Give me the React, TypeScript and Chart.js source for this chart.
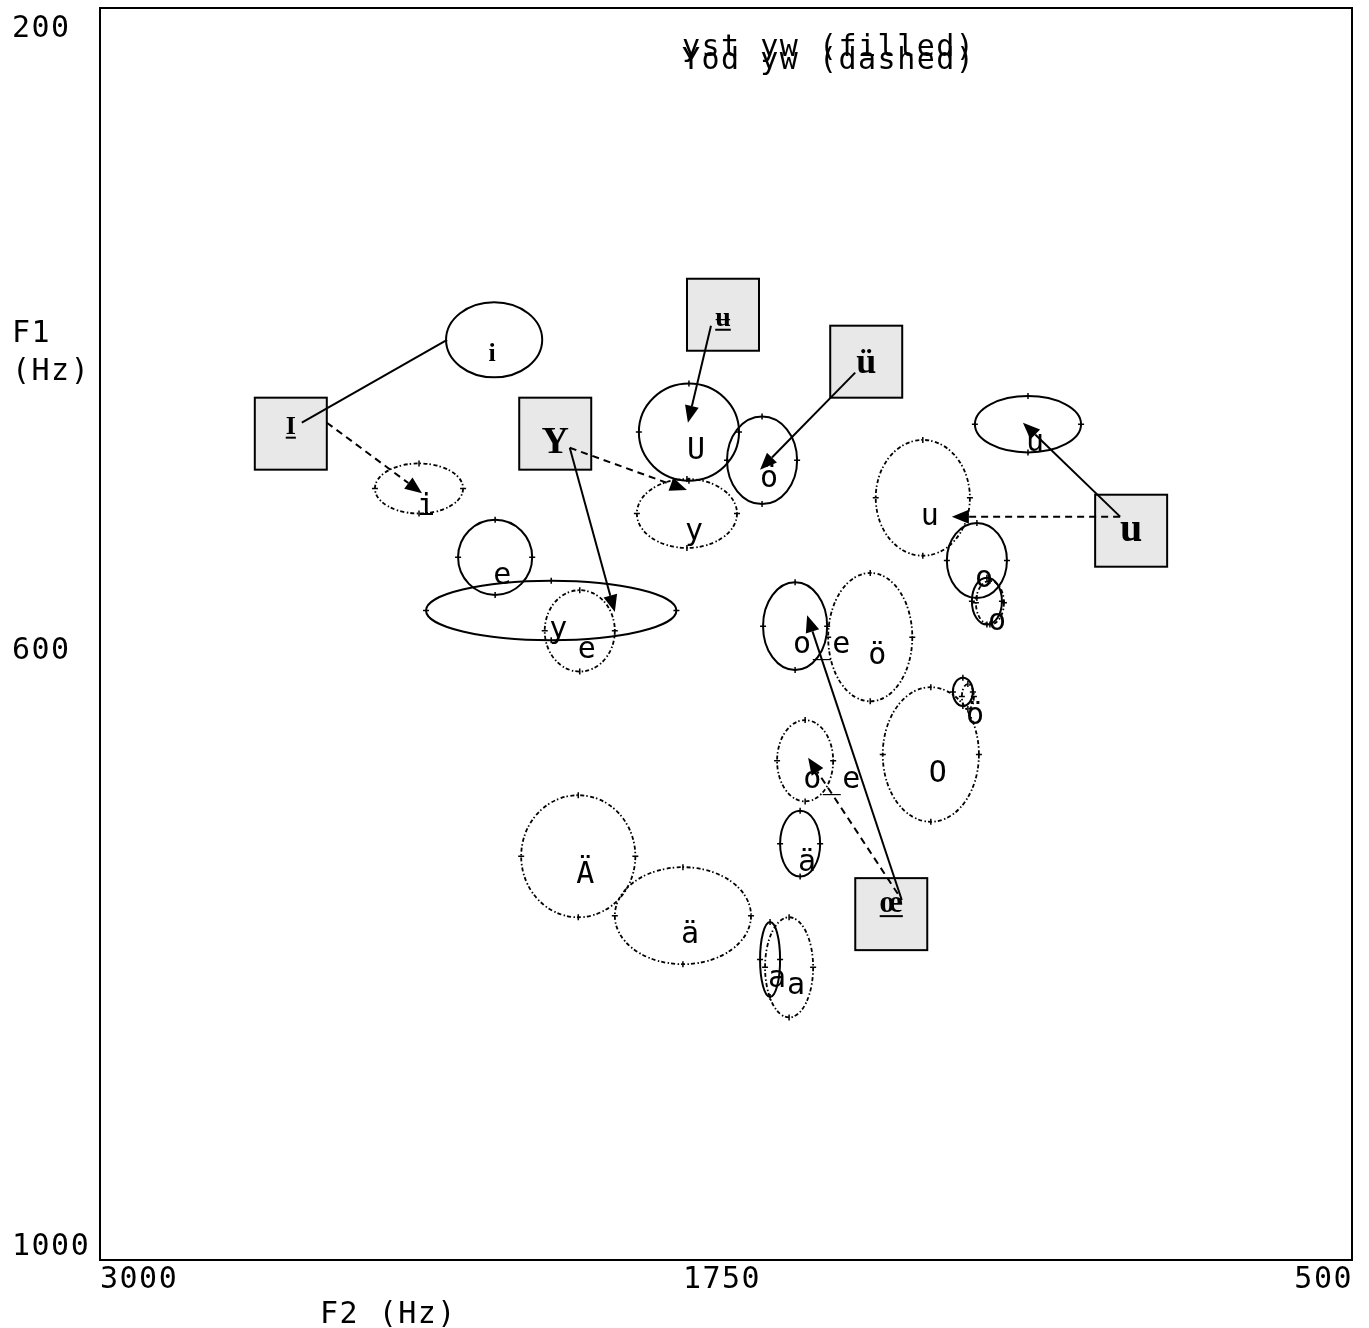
import React, { useEffect, useRef } from "react";
import { Chart, registerables } from "chart.js";

Chart.register(...registerables);

// ---------- axes ----------
const xTicks = [3000, 1750, 500];
const yTicks = [200, 600, 1000];

// ---------- yst yw (filled / solid outline) ellipses ----------
const filledLabels = ["e", "y", "U", "ö", "u", "o", "", "o_e", "ä", "a", ""];
const filledF2 = [2211, 2099, 1824, 1678, 1147, 1249, 1229, 1612, 1602, 1662, 1277];
const filledF1 = [551, 585, 471, 489, 466, 553, 579, 595, 734, 808, 637];
const filledRadF2 = [74, 250, 100, 70, 106, 60, 30, 64, 40, 20, 20];
const filledRadF1 = [24, 19, 31, 28, 18, 24, 15, 28, 21, 24, 9];

// ---------- Yod yw (dashed outline) ellipses ----------
const dashedLabels = ["i", "y", "e", "u", "ö", "O", "o_e", "Ä", "ä", "a", "o", "ö"];
const dashedF2 = [2363, 1828, 2042, 1357, 1462, 1341, 1592, 2045, 1836, 1624, 1223, 1267];
const dashedF1 = [507, 523, 598, 513, 602, 677, 681, 742, 780, 813, 580, 640];
const dashedRadF2 = [88, 100, 70, 94, 84, 96, 56, 114, 136, 48, 28, 12];
const dashedRadF1 = [16, 22, 26, 37, 41, 43, 26, 39, 31, 32, 14, 8];

// ---------- added annotation ellipse ----------
const noteLabels = ["i"];
const noteF2 = [2213];
const noteF1 = [412];
const noteRadF2 = [96];
const noteRadF1 = [24];

// ---------- annotation boxes ----------
const boxLabels = ["I", "ʉ", "ü", "Y", "u", "œ"];
const boxUnderlined = [true, true, false, false, false, true];
const boxF2 = [2619, 1756, 1470, 2091, 941, 1420];
const boxF1 = [472, 396, 426, 472, 534, 779];

// ---------- annotation arrows ----------
const arrowFromF2 = [2597, 2547, 1780, 1492, 2062, 2062, 963, 963, 1399, 1407];
const arrowFromF1 = [465, 465, 403, 433, 481, 481, 525, 525, 770, 766];
const arrowToF2 = [2307, 2357, 1826, 1682, 1972, 1828, 1157, 1299, 1588, 1586];
const arrowToF1 = [412, 510, 465, 495, 586, 508, 465, 525, 588, 679];
const arrowDashed = [false, true, false, false, false, true, false, true, false, true];
const arrowHead = [false, true, true, true, true, true, true, true, true, true];

const titleLines = ["yst yw (filled)", "Yod yw (dashed)"];

const MONO = '30px "DejaVu Sans Mono", monospace';
const SERIF = '"Liberation Serif", "DejaVu Serif", serif';

const boxTextDy = [0, 11, 11, 19, 10, -2];
const boxFontSize = [26, 28, 36, 38, 40, 32];
const yTickDy = [29, 25, -5];

function toPts(f2: number[], f1: number[]) {
  return f2.map((v, i) => ({ x: v, y: f1[i] }));
}

const drawPlugin = {
  id: "formantDraw",
  afterDatasetsDraw(chart: any) {
    const ctx: CanvasRenderingContext2D = chart.ctx;
    const xs = chart.scales.x;
    const ys = chart.scales.y;
    const ca = chart.chartArea;
    ctx.save();

    // frame
    ctx.strokeStyle = "#000";
    ctx.lineWidth = 2;
    ctx.setLineDash([]);
    ctx.strokeRect(ca.left, ca.top, ca.right - ca.left, ca.bottom - ca.top);

    // tick labels
    ctx.fillStyle = "#000";
    ctx.font = MONO;
    (ctx as any).letterSpacing = "1.5px";
    ctx.textBaseline = "alphabetic";
    yTicks.forEach((t, i) => {
      ctx.textAlign = "left";
      ctx.fillText(String(t), 12, ys.getPixelForValue(t) + yTickDy[i]);
    });
    xTicks.forEach((t, i) => {
      const px = xs.getPixelForValue(t);
      if (i === 0) {
        ctx.textAlign = "left";
        ctx.fillText(String(t), px, ca.bottom + 28);
      } else if (i === xTicks.length - 1) {
        ctx.textAlign = "right";
        ctx.fillText(String(t), px + 1, ca.bottom + 28);
      } else {
        ctx.textAlign = "center";
        ctx.fillText(String(t), px - 4, ca.bottom + 28);
      }
    });
    // axis titles
    ctx.textAlign = "left";
    ctx.fillText("F1", 12, 342);
    ctx.fillText("(Hz)", 12, 380);
    ctx.fillText("F2 (Hz)", 320, 1323);
    // legend-like title
    ctx.fillText(titleLines[0], 682, 56);
    ctx.fillText(titleLines[1], 682, 69);

    const drawEllipse = (
      f2: number, f1: number, r2: number, r1: number, label: string,
      dash: number[], lw: number
    ) => {
      const cx = xs.getPixelForValue(f2);
      const cy = ys.getPixelForValue(f1);
      const rx = Math.abs(xs.getPixelForValue(f2 - r2) - cx);
      const ry = Math.abs(ys.getPixelForValue(f1 + r1) - cy);
      ctx.strokeStyle = "#000";
      ctx.lineWidth = lw;
      ctx.setLineDash(dash);
      ctx.beginPath();
      ctx.ellipse(cx, cy, rx, ry, 0, 0, Math.PI * 2);
      ctx.stroke();
      // little ticks at the four extremes
      ctx.setLineDash([]);
      ctx.lineWidth = 1.5;
      ctx.beginPath();
      ctx.moveTo(cx, cy - ry - 3); ctx.lineTo(cx, cy - ry + 3);
      ctx.moveTo(cx, cy + ry - 3); ctx.lineTo(cx, cy + ry + 3);
      ctx.moveTo(cx - rx - 3, cy); ctx.lineTo(cx - rx + 3, cy);
      ctx.moveTo(cx + rx - 3, cy); ctx.lineTo(cx + rx + 3, cy);
      ctx.stroke();
      if (label) {
        ctx.font = MONO;
        (ctx as any).letterSpacing = "1.5px";
        ctx.textAlign = "left";
        ctx.fillStyle = "#000";
        ctx.fillText(label, cx - 2, cy + 27);
      }
    };

    filledF2.forEach((v, i) =>
      drawEllipse(v, filledF1[i], filledRadF2[i], filledRadF1[i], filledLabels[i], [], 2)
    );
    dashedF2.forEach((v, i) =>
      drawEllipse(v, dashedF1[i], dashedRadF2[i], dashedRadF1[i], dashedLabels[i], [4, 2, 1.5, 2.5], 1.8)
    );

    // annotation ellipse (smooth)
    noteF2.forEach((v, i) => {
      const cx = xs.getPixelForValue(v);
      const cy = ys.getPixelForValue(noteF1[i]);
      const rx = Math.abs(xs.getPixelForValue(v - noteRadF2[i]) - cx);
      const ry = Math.abs(ys.getPixelForValue(noteF1[i] + noteRadF1[i]) - cy);
      ctx.setLineDash([]);
      ctx.lineWidth = 2;
      ctx.strokeStyle = "#000";
      ctx.beginPath();
      ctx.ellipse(cx, cy, rx, ry, 0, 0, Math.PI * 2);
      ctx.stroke();
      ctx.font = `bold 26px ${SERIF}`;
      (ctx as any).letterSpacing = "0px";
      ctx.textAlign = "center";
      ctx.fillStyle = "#000";
      ctx.fillText(noteLabels[i], cx - 2, cy + 21);
    });

    // boxes
    boxF2.forEach((v, i) => {
      const cx = xs.getPixelForValue(v);
      const cy = ys.getPixelForValue(boxF1[i]);
      ctx.setLineDash([]);
      ctx.fillStyle = "#e8e8e8";
      ctx.fillRect(cx - 36, cy - 36, 72, 72);
      ctx.strokeStyle = "#000";
      ctx.lineWidth = 2;
      ctx.strokeRect(cx - 36, cy - 36, 72, 72);
      ctx.fillStyle = "#000";
      ctx.font = `bold ${boxFontSize[i]}px ${SERIF}`;
      (ctx as any).letterSpacing = "0px";
      ctx.textAlign = "center";
      const by = cy + boxTextDy[i];
      ctx.fillText(boxLabels[i], cx, by);
      if (boxUnderlined[i]) {
        const w = ctx.measureText(boxLabels[i]).width;
        ctx.lineWidth = 2;
        ctx.beginPath();
        ctx.moveTo(cx - w / 2, by + 4);
        ctx.lineTo(cx + w / 2, by + 4);
        ctx.stroke();
      }
    });

    // arrows
    arrowFromF2.forEach((v, i) => {
      const x1 = xs.getPixelForValue(v);
      const y1 = ys.getPixelForValue(arrowFromF1[i]);
      const x2 = xs.getPixelForValue(arrowToF2[i]);
      const y2 = ys.getPixelForValue(arrowToF1[i]);
      const ang = Math.atan2(y2 - y1, x2 - x1);
      const hl = 17, hw = 7;
      const ex = arrowHead[i] ? x2 - hl * Math.cos(ang) : x2;
      const ey = arrowHead[i] ? y2 - hl * Math.sin(ang) : y2;
      ctx.strokeStyle = "#000";
      ctx.lineWidth = 2;
      ctx.setLineDash(arrowDashed[i] ? [7, 5] : []);
      ctx.beginPath();
      ctx.moveTo(x1, y1);
      ctx.lineTo(ex, ey);
      ctx.stroke();
      if (arrowHead[i]) {
        ctx.setLineDash([]);
        ctx.fillStyle = "#000";
        ctx.beginPath();
        ctx.moveTo(x2, y2);
        ctx.lineTo(ex - hw * Math.sin(ang), ey + hw * Math.cos(ang));
        ctx.lineTo(ex + hw * Math.sin(ang), ey - hw * Math.cos(ang));
        ctx.closePath();
        ctx.fill();
      }
    });

    ctx.restore();
  },
};

export default function App() {
  const ref = useRef<HTMLCanvasElement | null>(null);
  useEffect(() => {
    document.body.style.margin = "0";
    const canvas = ref.current;
    if (!canvas) return;
    const chart = new Chart(canvas, {
      type: "scatter",
      data: {
        datasets: [
          { label: "yst yw (filled)", data: toPts(filledF2, filledF1), pointRadius: 0 },
          { label: "Yod yw (dashed)", data: toPts(dashedF2, dashedF1), pointRadius: 0 },
          { label: "note", data: toPts(noteF2, noteF1), pointRadius: 0 },
          { label: "boxes", data: toPts(boxF2, boxF1), pointRadius: 0 },
        ],
      },
      options: {
        responsive: false,
        animation: false,
        events: [],
        layout: { padding: { left: 100, top: 8, right: 17, bottom: 68 } },
        scales: {
          x: { type: "linear", min: 500, max: 3000, reverse: true, display: false },
          y: { type: "linear", min: 200, max: 1000, reverse: true, display: false },
        },
        plugins: { legend: { display: false }, tooltip: { enabled: false } },
      },
      plugins: [drawPlugin],
    });
    return () => chart.destroy();
  }, []);
  return (
    <div style={{ width: 1369, height: 1328, background: "#fff" }}>
      <canvas ref={ref} width={1369} height={1328} style={{ display: "block" }} />
    </div>
  );
}
